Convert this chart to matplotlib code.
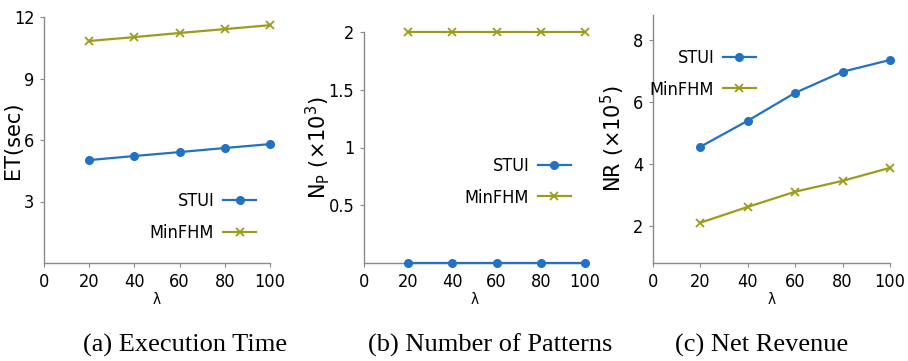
import matplotlib
matplotlib.use("Agg")
import matplotlib.pyplot as plt

# Sweep of lambda values
lam = [20, 40, 60, 80, 100]
x_ticks = [0, 20, 40, 60, 80, 100]

# (a) Execution time in seconds
et_stui = [5.02, 5.22, 5.41, 5.61, 5.80]
et_minfhm = [10.83, 11.02, 11.22, 11.41, 11.60]

# (b) Number of patterns (x10^3)
np_stui = [0.0, 0.0, 0.0, 0.0, 0.0]
np_minfhm = [2.0, 2.0, 2.0, 2.0, 2.0]

# (c) Net revenue (x10^5)
nr_stui = [4.55, 5.39, 6.29, 6.97, 7.35]
nr_minfhm = [2.10, 2.61, 3.10, 3.45, 3.87]

series_names = ["STUI", "MinFHM"]
captions = ["(a) Execution Time", "(b) Number of Patterns", "(c) Net Revenue"]
ylabels = ["ET(sec)", r"N$_\mathregular{P}$ (×10$^\mathregular{3}$)",
           r"NR (×10$^\mathregular{5}$)"]

BLUE = "#2272c3"
OLIVE = "#9c9c1c"
NARROW = dict(family=["DejaVu Sans"], stretch="condensed")

fig = plt.figure(figsize=(9.08, 3.61), dpi=100)

W, H = 908.0, 361.0
boxes = [  # left, right, top, bottom in pixels
    (44, 270, 17, 263),
    (364, 585, 32, 263),
    (653, 890, 15, 263),
]
caption_x = [185, 490, 762]
ylabel_x = [-0.093, -0.145, -0.108]

panels = [
    (et_stui, et_minfhm, (0, 12), [3, 6, 9, 12], ["3", "6", "9", "12"], (0.969, 0.316)),
    (np_stui, np_minfhm, (0, 2.0), [0.5, 1, 1.5, 2], ["0.5", "1", "1.5", "2"], (0.968, 0.49)),
    (nr_stui, nr_minfhm, (0.8, 8.8), [2, 4, 6, 8], ["2", "4", "6", "8"], (0.464, 0.891)),
]

for i, ((l, r, t, b), (s1, s2, ylim, yt, ytl, lpos)) in enumerate(zip(boxes, panels)):
    ax = fig.add_axes([l / W, 1 - b / H, (r - l) / W, (b - t) / H])
    ax.plot(lam, s1, color=BLUE, lw=1.6, marker="o", ms=5.5, label=series_names[0],
            clip_on=False, zorder=3)
    ax.plot(lam, s2, color=OLIVE, lw=1.6, marker="x", ms=6, mew=1.3,
            label=series_names[1], clip_on=False, zorder=3)
    ax.set_xlim(0, 100)
    ax.set_ylim(*ylim)
    ax.set_xticks(x_ticks)
    ax.set_xticklabels([str(v) for v in x_ticks], fontsize=13, **NARROW)
    ax.set_yticks(yt)
    ax.set_yticklabels(ytl, fontsize=13, **NARROW)
    for side in ("top", "right"):
        ax.spines[side].set_visible(False)
    for side in ("left", "bottom"):
        ax.spines[side].set_color("#8a8a8a")
        ax.spines[side].set_linewidth(1.0)
    ax.tick_params(axis="both", length=3, width=0.8, color="#8a8a8a", pad=4)
    ax.set_xlabel("λ", fontsize=11, labelpad=1, **NARROW)
    ax.set_ylabel(ylabels[i], fontsize=15, family="DejaVu Sans")
    ax.yaxis.set_label_coords(ylabel_x[i], 0.5)
    ax.legend(loc="upper right", bbox_to_anchor=lpos, markerfirst=False,
              frameon=False, prop={"family": "DejaVu Sans", "stretch": "condensed",
                                   "size": 13},
              handlelength=1.8, handletextpad=0.5, labelspacing=0.75,
              borderaxespad=0)
    fig.text(caption_x[i] / W, 1 - 345 / H, captions[i], ha="center", va="center",
             fontsize=19, family="Liberation Serif")

fig.savefig("out.png", dpi=100)
